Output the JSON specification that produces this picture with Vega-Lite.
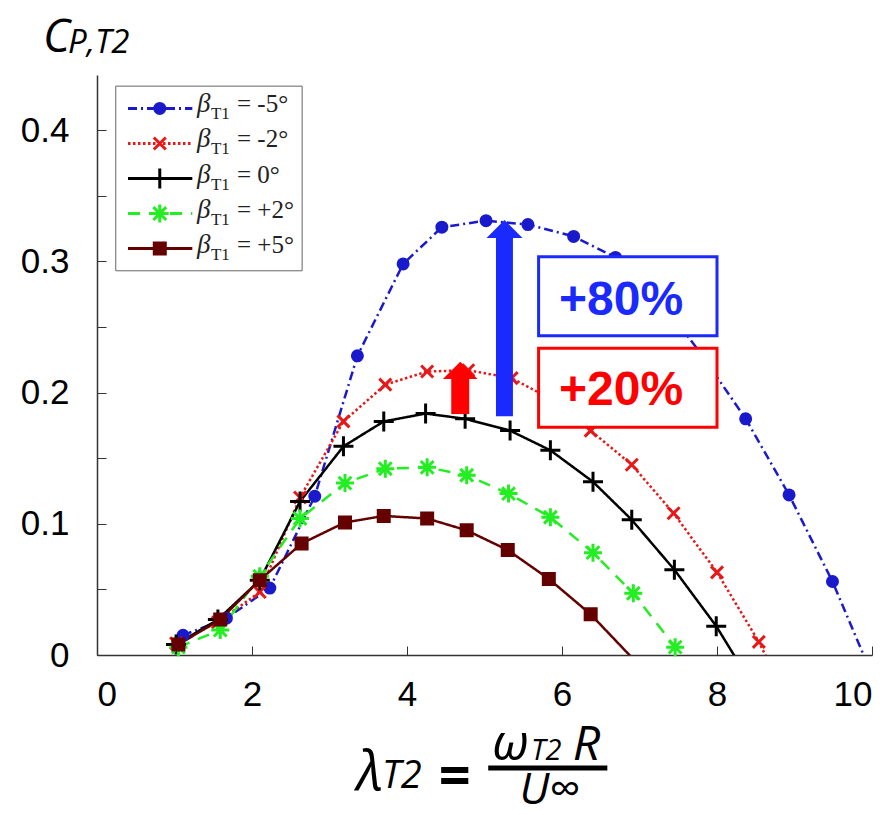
{
"$schema": "https://vega.github.io/schema/vega-lite/v6.json",
"width": 775, "height": 580,
"autosize": {"type": "none"},
"padding": {"left": 97, "top": 75, "right": 11, "bottom": 160},
"background": "white",
"config": {"view": {"stroke": null}, "axis": {"grid": false}},
"datasets": {
 "curves": [
  {"series": "-5", "x": 1.11, "y": 0.015}, {"series": "-5", "x": 1.67, "y": 0.028}, {"series": "-5", "x": 2.23, "y": 0.051},
  {"series": "-5", "x": 2.81, "y": 0.121}, {"series": "-5", "x": 3.36, "y": 0.228}, {"series": "-5", "x": 3.95, "y": 0.298},
  {"series": "-5", "x": 4.45, "y": 0.326}, {"series": "-5", "x": 5.02, "y": 0.331}, {"series": "-5", "x": 5.56, "y": 0.328},
  {"series": "-5", "x": 6.15, "y": 0.319}, {"series": "-5", "x": 6.69, "y": 0.303}, {"series": "-5", "x": 7.25, "y": 0.272},
  {"series": "-5", "x": 7.8, "y": 0.229}, {"series": "-5", "x": 8.37, "y": 0.18}, {"series": "-5", "x": 8.93, "y": 0.122},
  {"series": "-5", "x": 9.49, "y": 0.056}, {"series": "-5", "x": 10.05, "y": -0.022},
  {"series": "-2", "x": 1.02, "y": 0.009}, {"series": "-2", "x": 1.56, "y": 0.025}, {"series": "-2", "x": 2.1, "y": 0.048},
  {"series": "-2", "x": 2.62, "y": 0.12}, {"series": "-2", "x": 3.18, "y": 0.178}, {"series": "-2", "x": 3.72, "y": 0.206},
  {"series": "-2", "x": 4.26, "y": 0.216}, {"series": "-2", "x": 4.79, "y": 0.217}, {"series": "-2", "x": 5.35, "y": 0.211},
  {"series": "-2", "x": 5.89, "y": 0.194}, {"series": "-2", "x": 6.37, "y": 0.171}, {"series": "-2", "x": 6.9, "y": 0.145},
  {"series": "-2", "x": 7.44, "y": 0.108}, {"series": "-2", "x": 8.0, "y": 0.063}, {"series": "-2", "x": 8.54, "y": 0.01},
  {"series": "-2", "x": 9.08, "y": -0.055},
  {"series": "0", "x": 1.02, "y": 0.008}, {"series": "0", "x": 1.56, "y": 0.027}, {"series": "0", "x": 2.1, "y": 0.057},
  {"series": "0", "x": 2.62, "y": 0.117}, {"series": "0", "x": 3.18, "y": 0.159}, {"series": "0", "x": 3.7, "y": 0.178},
  {"series": "0", "x": 4.24, "y": 0.184}, {"series": "0", "x": 4.75, "y": 0.18}, {"series": "0", "x": 5.33, "y": 0.171},
  {"series": "0", "x": 5.85, "y": 0.156}, {"series": "0", "x": 6.4, "y": 0.132}, {"series": "0", "x": 6.9, "y": 0.103},
  {"series": "0", "x": 7.45, "y": 0.065}, {"series": "0", "x": 7.99, "y": 0.022}, {"series": "0", "x": 8.53, "y": -0.03},
  {"series": "+2", "x": 1.05, "y": 0.006}, {"series": "+2", "x": 1.59, "y": 0.019}, {"series": "+2", "x": 2.1, "y": 0.06},
  {"series": "+2", "x": 2.62, "y": 0.104}, {"series": "+2", "x": 3.2, "y": 0.131}, {"series": "+2", "x": 3.72, "y": 0.142},
  {"series": "+2", "x": 4.26, "y": 0.143}, {"series": "+2", "x": 4.77, "y": 0.137}, {"series": "+2", "x": 5.31, "y": 0.123},
  {"series": "+2", "x": 5.85, "y": 0.105}, {"series": "+2", "x": 6.4, "y": 0.078}, {"series": "+2", "x": 6.92, "y": 0.047},
  {"series": "+2", "x": 7.46, "y": 0.006}, {"series": "+2", "x": 8.0, "y": -0.04},
  {"series": "+5", "x": 1.05, "y": 0.008}, {"series": "+5", "x": 1.59, "y": 0.027}, {"series": "+5", "x": 2.1, "y": 0.057},
  {"series": "+5", "x": 2.64, "y": 0.085}, {"series": "+5", "x": 3.2, "y": 0.101}, {"series": "+5", "x": 3.7, "y": 0.106},
  {"series": "+5", "x": 4.26, "y": 0.104}, {"series": "+5", "x": 4.77, "y": 0.095}, {"series": "+5", "x": 5.3, "y": 0.08},
  {"series": "+5", "x": 5.83, "y": 0.058}, {"series": "+5", "x": 6.37, "y": 0.031}, {"series": "+5", "x": 6.95, "y": -0.005}
 ],
 "legend": [
  {"series": "-5", "label": "= -5°", "ly": 0.4165},
  {"series": "-2", "label": "= -2°", "ly": 0.3898},
  {"series": "0", "label": "= 0°", "ly": 0.3631},
  {"series": "+2", "label": "= +2°", "ly": 0.3364},
  {"series": "+5", "label": "= +5°", "ly": 0.3097}
 ],
 "one": [{"k": 1}]
},
"layer": [
 {"data": {"name": "one"},
  "mark": {"type": "rect", "fill": "white", "stroke": "#666666", "strokeWidth": 1},
  "encoding": {"x": {"datum": 0.242, "type": "quantitative"}, "x2": {"datum": 2.647},
               "y": {"datum": 0.4335, "type": "quantitative"}, "y2": {"datum": 0.2928}}},
 {"data": {"name": "curves"},
  "mark": {"type": "line", "clip": true, "strokeWidth": 2.5},
  "encoding": {
   "x": {"field": "x", "type": "quantitative", "scale": {"domain": [0, 10], "nice": false, "zero": false},
         "axis": {"title": null, "values": [0, 2, 4, 6, 8, 10], "format": "d", "labelFont": "Liberation Sans", "labelFontSize": 35,
                  "labelColor": "black", "labelFlush": true, "labelPadding": 31, "tickSize": -9,
                  "tickColor": "#333333", "domainColor": "#333333", "domainWidth": 1.5, "tickWidth": 1}},
   "y": {"field": "y", "type": "quantitative", "scale": {"domain": [0, 0.442], "nice": false, "zero": false},
         "axis": {"title": null, "values": [0, 0.05, 0.1, 0.15, 0.2, 0.25, 0.3, 0.35, 0.4],
                  "labelExpr": "datum.value == 0 ? '0' : (round(datum.value*100) % 10 == 0 ? format(datum.value, '.1f') : '')",
                  "labelFont": "Liberation Sans", "labelFontSize": 35, "labelColor": "black", "labelPadding": 37,
                  "tickSize": -9, "tickColor": "#333333", "domainColor": "#333333", "domainWidth": 1.5, "tickWidth": 1}},
   "color": {"field": "series", "type": "nominal",
             "scale": {"domain": ["-5", "-2", "0", "+2", "+5"], "range": ["#1a1acc", "#e81818", "#000000", "#22ee22", "#640000"]},
             "legend": null},
   "strokeDash": {"field": "series", "type": "nominal",
             "scale": {"domain": ["-5", "-2", "0", "+2", "+5"], "range": [[9, 4, 2, 4], [2.5, 2.5], [1, 0], [12, 9], [1, 0]]},
             "legend": null}
  }},
 {"data": {"name": "curves"},
  "transform": [{"filter": "datum.y >= 0 && datum.x <= 10"}],
  "mark": {"type": "point", "filled": true, "size": 400, "strokeWidth": 3, "opacity": 1},
  "encoding": {
   "x": {"field": "x", "type": "quantitative"},
   "y": {"field": "y", "type": "quantitative"},
   "color": {"field": "series", "type": "nominal", "legend": null},
   "stroke": {"field": "series", "type": "nominal",
             "scale": {"domain": ["-5", "-2", "0", "+2", "+5"], "range": ["#1a1acc", "#e81818", "#000000", "#22ee22", "#640000"]},
             "legend": null},
   "shape": {"field": "series", "type": "nominal",
             "scale": {"domain": ["-5", "-2", "0", "+2", "+5"],
                       "range": ["M0.5,0A0.5,0.5,0,1,1,-0.5,0A0.5,0.5,0,1,1,0.5,0Z",
                                 "M-0.6,-0.6L0.6,0.6M-0.6,0.6L0.6,-0.6",
                                 "M-1,0L1,0M0,-1L0,1",
                                 "M-0.9,0L0.9,0M0,-0.9L0,0.9M-0.64,-0.64L0.64,0.64M-0.64,0.64L0.64,-0.64",
                                 "M-0.55,-0.55L0.55,-0.55L0.55,0.55L-0.55,0.55Z"]},
             "legend": null}
  }},
 {"data": {"name": "legend"},
  "mark": {"type": "rule", "strokeWidth": 3},
  "encoding": {
   "x": {"datum": 0.4, "type": "quantitative"}, "x2": {"datum": 1.23},
   "y": {"field": "ly", "type": "quantitative"},
   "color": {"field": "series", "type": "nominal", "legend": null},
   "strokeDash": {"field": "series", "type": "nominal", "legend": null}
  }},
 {"data": {"name": "legend"},
  "mark": {"type": "point", "filled": true, "size": 400, "strokeWidth": 3, "opacity": 1},
  "encoding": {
   "x": {"datum": 0.81, "type": "quantitative"},
   "y": {"field": "ly", "type": "quantitative"},
   "color": {"field": "series", "type": "nominal", "legend": null},
   "stroke": {"field": "series", "type": "nominal", "legend": null},
   "shape": {"field": "series", "type": "nominal", "legend": null}
  }},
 {"data": {"name": "legend"},
  "mark": {"type": "text", "text": "β", "font": "Liberation Serif", "fontStyle": "italic", "fontSize": 27, "align": "left", "baseline": "alphabetic", "dy": 4, "color": "#222222"},
  "encoding": {"x": {"datum": 1.29, "type": "quantitative"}, "y": {"field": "ly", "type": "quantitative"}}},
 {"data": {"name": "legend"},
  "mark": {"type": "text", "text": "T1", "font": "Liberation Serif", "fontSize": 17, "align": "left", "baseline": "alphabetic", "dx": 14, "dy": 11, "color": "#222222"},
  "encoding": {"x": {"datum": 1.29, "type": "quantitative"}, "y": {"field": "ly", "type": "quantitative"}}},
 {"data": {"name": "legend"},
  "mark": {"type": "text", "font": "Liberation Serif", "fontSize": 25, "align": "left", "baseline": "alphabetic", "dx": 40, "dy": 4, "color": "#222222"},
  "encoding": {"x": {"datum": 1.29, "type": "quantitative"}, "y": {"field": "ly", "type": "quantitative"}, "text": {"field": "label"}}},
 {"data": {"name": "one"},
  "mark": {"type": "rect", "fill": "white", "stroke": "#1a2aff", "strokeWidth": 3},
  "encoding": {"x": {"datum": 5.698, "type": "quantitative"}, "x2": {"datum": 8.0},
               "y": {"datum": 0.3035, "type": "quantitative"}, "y2": {"datum": 0.2433}}},
 {"data": {"name": "one"},
  "mark": {"type": "rect", "fill": "white", "stroke": "#ff0000", "strokeWidth": 3},
  "encoding": {"x": {"datum": 5.698, "type": "quantitative"}, "x2": {"datum": 8.0},
               "y": {"datum": 0.2337, "type": "quantitative"}, "y2": {"datum": 0.1735}}},
 {"data": {"name": "one"},
  "mark": {"type": "text", "text": "+80%", "font": "Liberation Sans", "fontWeight": "bold", "fontSize": 48, "align": "center", "baseline": "alphabetic", "color": "#1a2aff"},
  "encoding": {"x": {"datum": 6.763, "type": "quantitative"}, "y": {"datum": 0.259, "type": "quantitative"}}},
 {"data": {"name": "one"},
  "mark": {"type": "text", "text": "+20%", "font": "Liberation Sans", "fontWeight": "bold", "fontSize": 48, "align": "center", "baseline": "alphabetic", "color": "#ff0000"},
  "encoding": {"x": {"datum": 6.763, "type": "quantitative"}, "y": {"datum": 0.1905, "type": "quantitative"}}},
 {"data": {"name": "one"},
  "mark": {"type": "rect", "color": "#1a2aff"},
  "encoding": {"x": {"datum": 5.148, "type": "quantitative"}, "x2": {"datum": 5.367},
               "y": {"datum": 0.182, "type": "quantitative"}, "y2": {"datum": 0.32}}},
 {"data": {"name": "one"},
  "mark": {"type": "point", "shape": "M-1,0.5L0,-0.5L1,0.5Z", "size": 1296, "filled": true, "opacity": 1, "color": "#1a2aff"},
  "encoding": {"x": {"datum": 5.258, "type": "quantitative"}, "y": {"datum": 0.3247, "type": "quantitative"}}},
 {"data": {"name": "one"},
  "mark": {"type": "rect", "color": "#ff0000"},
  "encoding": {"x": {"datum": 4.571, "type": "quantitative"}, "x2": {"datum": 4.803},
               "y": {"datum": 0.1836, "type": "quantitative"}, "y2": {"datum": 0.212}}},
 {"data": {"name": "one"},
  "mark": {"type": "point", "shape": "M-1,0.5L0,-0.5L1,0.5Z", "size": 1197, "filled": true, "opacity": 1, "color": "#ff0000"},
  "encoding": {"x": {"datum": 4.687, "type": "quantitative"}, "y": {"datum": 0.2169, "type": "quantitative"}}},
 {"data": {"name": "one"},
  "mark": {"type": "text", "text": "C", "font": "Open Sans", "fontStyle": "italic", "fontSize": 46, "align": "left", "baseline": "alphabetic", "color": "black"},
  "encoding": {"x": {"datum": -0.697, "type": "quantitative"}, "y": {"datum": 0.4595, "type": "quantitative"}}},
 {"data": {"name": "one"},
  "mark": {"type": "text", "text": "P,T2", "font": "Open Sans", "fontStyle": "italic", "fontSize": 33, "align": "left", "baseline": "alphabetic", "color": "black"},
  "encoding": {"x": {"datum": -0.374, "type": "quantitative"}, "y": {"datum": 0.4585, "type": "quantitative"}}},
 {"data": {"name": "one"},
  "mark": {"type": "text", "text": "λ", "font": "Open Sans", "fontStyle": "italic", "fontSize": 54, "align": "left", "baseline": "alphabetic", "color": "black"},
  "encoding": {"x": {"datum": 3.353, "type": "quantitative"}, "y": {"datum": -0.1029, "type": "quantitative"}}},
 {"data": {"name": "one"},
  "mark": {"type": "text", "text": "T2", "font": "Open Sans", "fontStyle": "italic", "fontSize": 38, "align": "left", "baseline": "alphabetic", "color": "black"},
  "encoding": {"x": {"datum": 3.676, "type": "quantitative"}, "y": {"datum": -0.1013, "type": "quantitative"}}},
 {"data": {"name": "one"},
  "mark": {"type": "text", "text": "=", "font": "Open Sans", "fontWeight": "bold", "fontSize": 56, "align": "left", "baseline": "alphabetic", "color": "black"},
  "encoding": {"x": {"datum": 4.411, "type": "quantitative"}, "y": {"datum": -0.1065, "type": "quantitative"}}},
 {"data": {"name": "one"},
  "mark": {"type": "rule", "strokeWidth": 5, "color": "black"},
  "encoding": {"x": {"datum": 5.048, "type": "quantitative"}, "x2": {"datum": 6.585},
               "y": {"datum": -0.0861, "type": "quantitative"}}},
 {"data": {"name": "one"},
  "mark": {"type": "text", "text": "ω", "font": "Open Sans", "fontStyle": "italic", "fontSize": 50, "align": "left", "baseline": "alphabetic", "color": "black"},
  "encoding": {"x": {"datum": 5.1, "type": "quantitative"}, "y": {"datum": -0.08, "type": "quantitative"}}},
 {"data": {"name": "one"},
  "mark": {"type": "text", "text": "T2", "font": "Open Sans", "fontStyle": "italic", "fontSize": 29, "align": "left", "baseline": "alphabetic", "color": "black"},
  "encoding": {"x": {"datum": 5.6, "type": "quantitative"}, "y": {"datum": -0.08, "type": "quantitative"}}},
 {"data": {"name": "one"},
  "mark": {"type": "text", "text": "R", "font": "Open Sans", "fontStyle": "italic", "fontSize": 48, "align": "left", "baseline": "alphabetic", "color": "black"},
  "encoding": {"x": {"datum": 6.14, "type": "quantitative"}, "y": {"datum": -0.08, "type": "quantitative"}}},
 {"data": {"name": "one"},
  "mark": {"type": "text", "text": "U", "font": "Open Sans", "fontStyle": "italic", "fontSize": 44, "align": "left", "baseline": "alphabetic", "color": "black"},
  "encoding": {"x": {"datum": 5.45, "type": "quantitative"}, "y": {"datum": -0.1135, "type": "quantitative"}}},
 {"data": {"name": "one"},
  "mark": {"type": "text", "text": "∞", "font": "Open Sans", "fontSize": 44, "align": "left", "baseline": "alphabetic", "color": "black"},
  "encoding": {"x": {"datum": 5.84, "type": "quantitative"}, "y": {"datum": -0.1135, "type": "quantitative"}}}
]
}
